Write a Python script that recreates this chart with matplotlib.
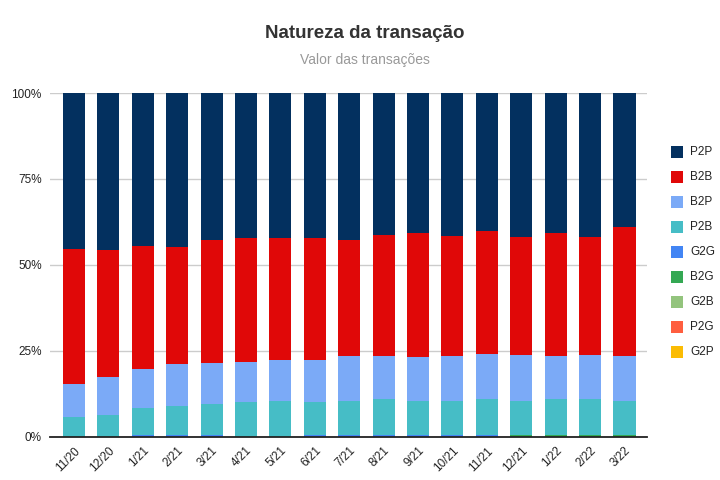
import matplotlib
matplotlib.use("Agg")
import matplotlib.pyplot as plt
from matplotlib.patches import Rectangle
import numpy as np

plt.rcParams['font.family'] = ['Liberation Sans', 'DejaVu Sans']

months = ["11/20", "12/20", "1/21", "2/21", "3/21", "4/21", "5/21", "6/21", "7/21",
          "8/21", "9/21", "10/21", "11/21", "12/21", "1/22", "2/22", "3/22"]

# stacked shares (%), bottom to top
G2P = [0.0] * 17
P2G = [0.0] * 17
G2B = [0.0] * 17
B2G = [0, 0, 0, 0, 0, 0, 0, 0, 0, 0, 0, 0, 0, 0.3, 0.3, 0.3, 0.3]
G2G = [0, 0, 0.3, 0.3, 0.3, 0, 0, 0.3, 0.3, 0.3, 0.3, 0.3, 0.3, 0, 0, 0, 0]
P2B = [5.6, 6.2, 8.0, 8.6, 9.3, 9.9, 10.4, 9.8, 10.1, 10.5, 10.1, 10.1, 10.5, 10.1, 10.5, 10.5, 10.1]
B2P = [9.7, 11.1, 11.4, 12.2, 11.8, 11.8, 12.0, 12.3, 12.9, 12.5, 12.6, 12.9, 13.2, 13.2, 12.5, 12.8, 12.9]
B2B = [39.4, 37.1, 35.8, 34.1, 35.8, 36.2, 35.5, 35.5, 33.9, 35.4, 36.1, 35.1, 35.7, 34.6, 35.8, 34.6, 37.8]
P2P = [45.3, 45.6, 44.5, 44.8, 42.8, 42.1, 42.1, 42.1, 42.8, 41.3, 40.9, 41.6, 40.3, 41.8, 40.9, 41.8, 38.9]

series = [("G2P", G2P, "#fbbc04"), ("P2G", P2G, "#ff5e3f"), ("G2B", G2B, "#93c47d"),
          ("B2G", B2G, "#34a853"), ("G2G", G2G, "#4285f4"), ("P2B", P2B, "#46bdc6"),
          ("B2P", B2P, "#7baaf7"), ("B2B", B2B, "#e00808"), ("P2P", P2P, "#03305f")]

yticks = [0, 25, 50, 75, 100]
ytick_labels = ["0%", "25%", "50%", "75%", "100%"]

fig = plt.figure(figsize=(7.2, 4.8), dpi=100)
W, H = 720, 480
left, right, top, bottom = 50, 647, 93, 436.5
ax = fig.add_axes([left / W, (H - bottom) / H, (right - left) / W, (bottom - top) / H])

x = np.arange(len(months))
base = np.zeros(len(months))
for name, vals, col in series:
    v = np.array(vals, dtype=float)
    ax.bar(x, v, bottom=base, width=0.64, color=col, linewidth=0, zorder=3)
    base += v

ax.set_xlim(-0.698, 16.654)
ax.set_ylim(0, 100)
ax.set_yticks(yticks)
ax.set_yticklabels(ytick_labels, fontsize=8.5, color="#222222")
ax.set_xticks(x)
ax.set_xticklabels(months, rotation=45, ha="right", rotation_mode="anchor",
                   fontsize=8.5, color="#222222")
ax.tick_params(axis="both", length=0)
ax.tick_params(axis="y", pad=6)
ax.tick_params(axis="x", pad=6)
ax.grid(axis="y", color="#cccccc", linewidth=1, zorder=0)
for s in ["left", "right", "top"]:
    ax.spines[s].set_visible(False)
ax.spines["bottom"].set_color("#222222")
ax.spines["bottom"].set_linewidth(1.3)
ax.spines["bottom"].set_zorder(5)

fig.text(365 / W, 1 - 33 / H, "Natureza da transação", ha="center", va="center",
         fontsize=13.5, fontweight="bold", color="#333333")
fig.text(365 / W, 1 - 60 / H, "Valor das transações", ha="center", va="center",
         fontsize=10, color="#999999")

# legend (top to bottom)
for i, (name, vals, col) in enumerate(reversed(series)):
    yc = 152 + 25 * i
    fig.patches.append(Rectangle(((671) / W, 1 - (yc + 6) / H), 12 / W, 12 / H,
                                 transform=fig.transFigure, facecolor=col,
                                 edgecolor="none"))
    fig.text(690 / W, 1 - yc / H, name, ha="left", va="center", fontsize=8.5,
             color="#222222")

fig.savefig("out.png", dpi=100)
